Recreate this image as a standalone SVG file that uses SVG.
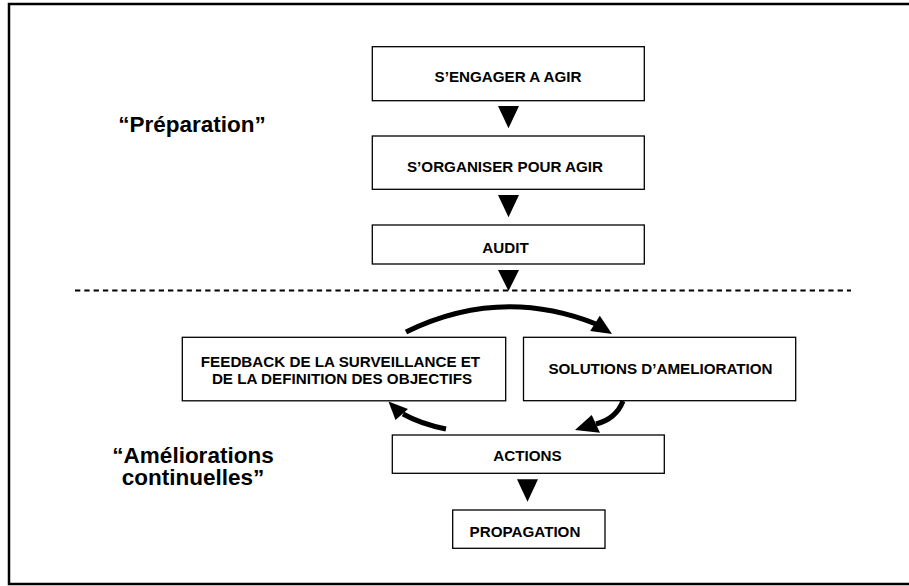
<svg xmlns="http://www.w3.org/2000/svg" width="909" height="586" viewBox="0 0 909 586">
<style>
  .box { fill: #fff; stroke: #000; stroke-width: 1.3; }
  .lbl { font-family: "Liberation Sans", Arial, sans-serif; font-weight: bold; font-size: 15.2px; fill: #000; text-anchor: middle; }
  .big { font-family: "Liberation Sans", Arial, sans-serif; font-weight: bold; font-size: 22.5px; fill: #000; text-anchor: middle; }
  .tri { fill: #000; stroke: none; }
  .shaft { fill: none; stroke: #000; stroke-width: 5; }
</style>
<rect x="0" y="0" width="909" height="586" fill="#fff"/>
<rect x="9" y="4" width="920" height="580" fill="none" stroke="#000" stroke-width="2.5"/>
<line x1="75" y1="290.5" x2="851" y2="290.5" stroke="#000" stroke-width="2" stroke-dasharray="5.3 4"/>
<text class="big" x="192" y="131.7">“Préparation”</text>
<text class="big" x="193" y="463.3">“Améliorations</text>
<text class="big" x="193" y="485">continuelles”</text>

<g id="n-engager">
  <rect class="box" x="372.3" y="46.7" width="272" height="54"/>
  <text class="lbl" x="508" y="81.5">S’ENGAGER A AGIR</text>
</g>
<g id="n-organiser">
  <rect class="box" x="372.3" y="136" width="272" height="53.3"/>
  <text class="lbl" x="505" y="171.7">S’ORGANISER POUR AGIR</text>
</g>
<g id="n-audit">
  <rect class="box" x="372.3" y="225" width="272" height="39"/>
  <text class="lbl" x="505.5" y="252.7">AUDIT</text>
</g>
<g id="n-feedback">
  <rect class="box" x="182.3" y="337.3" width="323.4" height="63.5"/>
  <text class="lbl" x="340.5" y="366.7">FEEDBACK DE LA SURVEILLANCE ET</text>
  <text class="lbl" x="342" y="384.3">DE LA DEFINITION DES OBJECTIFS</text>
</g>
<g id="n-solutions">
  <rect class="box" x="523.5" y="337.3" width="272.2" height="63.4"/>
  <text class="lbl" x="660.5" y="374">SOLUTIONS D’AMELIORATION</text>
</g>
<g id="n-actions">
  <rect class="box" x="392.3" y="435" width="272" height="38.3"/>
  <text class="lbl" x="527.5" y="461">ACTIONS</text>
</g>
<g id="n-propagation">
  <rect class="box" x="452.7" y="510" width="152.3" height="38.3"/>
  <text class="lbl" x="525" y="536.7">PROPAGATION</text>
</g>

<g id="connectors">
  <polygon class="tri" points="498,106 519,106 508.5,128.3"/>
  <polygon class="tri" points="498,195 519,195 508.5,217.3"/>
  <polygon class="tri" points="498,270 519,270 508.5,291"/>
  <polygon class="tri" points="517,479.3 538,479.3 527.5,501.7"/>

  <path class="shaft" d="M406,332 Q500,286 596,324"/>
  <polygon class="tri" points="612,334 599.8,315.8 590.2,331"/>

  <path class="shaft" d="M623,401 Q616,419 596,424"/>
  <polygon class="tri" points="575,430 591.7,415 600,432.7"/>

  <path class="shaft" d="M446,429 Q421,424 403,414"/>
  <polygon class="tri" points="388.5,401.5 408,409 395.5,420"/>
</g>
</svg>
